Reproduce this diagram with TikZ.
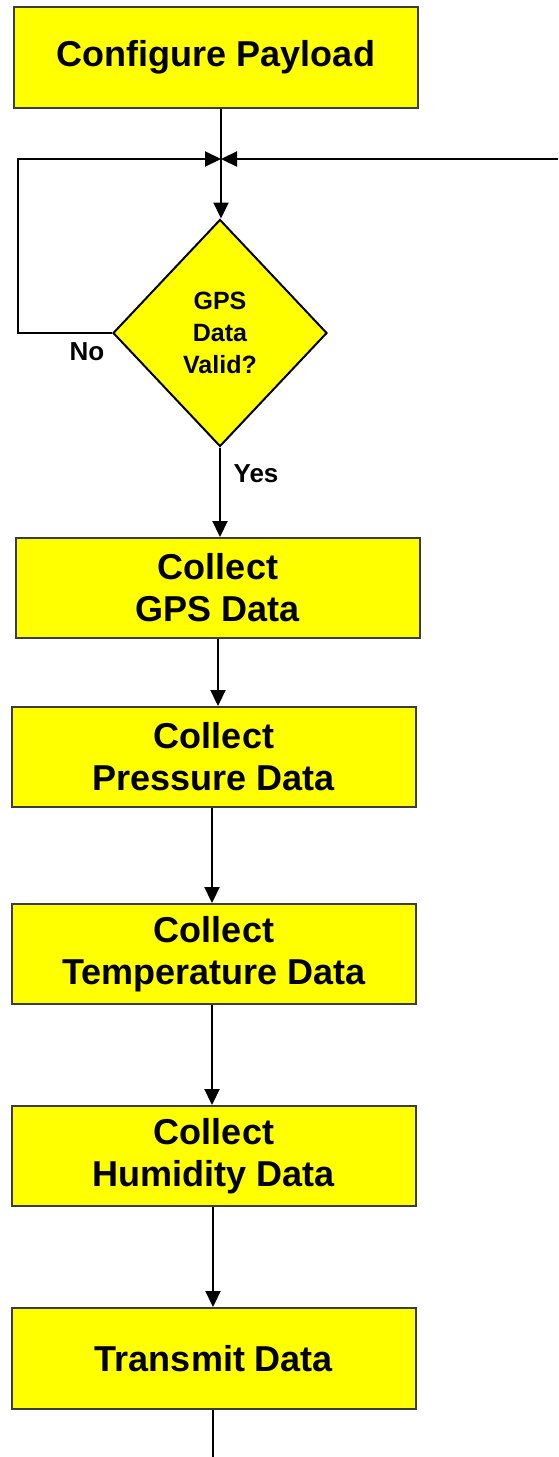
\documentclass[tikz,border=0pt]{standalone}
\usepackage{fontspec}
\setmainfont{Liberation Sans}
\usetikzlibrary{shapes.geometric,arrows.meta,calc}
\definecolor{boxyellow}{HTML}{FFFF00}
\definecolor{boxedge}{HTML}{3C3C3C}
\begin{document}
\begin{tikzpicture}[x=1pt,y=-1pt,
  stepbox/.style={draw=boxedge,line width=2pt,fill=boxyellow,minimum width=404pt,minimum height=100pt,inner sep=0pt,align=center,font=\fontsize{36}{42}\selectfont\bfseries},
  decision/.style={diamond,draw=black,line width=2pt,fill=boxyellow,minimum width=214pt,minimum height=227pt,inner sep=0pt,align=center,font=\fontsize{25}{32}\selectfont\bfseries},
  lbl/.style={font=\fontsize{26}{30}\selectfont\bfseries,inner sep=0pt},
  conn/.style={line width=2.2pt,black},
  arr/.style={conn,-{Triangle[width=15pt,length=16pt]}}]
\useasboundingbox (0,0) rectangle (558,1457);
\node[stepbox,minimum height=101pt] (cfg) at (216,57.5) {Configure Payload};
\node[decision] (dia) at (220,333) {GPS\\Data\\Valid?};
\node[stepbox] (gps) at (218,588) {Collect\\GPS Data};
\node[stepbox] (pres) at (214,757) {Collect\\Pressure Data};
\node[stepbox] (temp) at (214,954) {Collect\\Temperature Data};
\node[stepbox] (hum) at (214,1156) {Collect\\Humidity Data};
\node[stepbox,minimum height=101pt] (tx) at (214,1358.5) {Transmit Data};
\node[lbl] (no) at (87,352) {No};
\node[lbl] (yes) at (256,474) {Yes};
\coordinate (J) at (221,159);
\coordinate (L) at (18,159);
\coordinate (R) at (558,159);
\coordinate (E) at (213,1457);
\draw[conn] (J |- cfg.south) -- (J);
\draw[arr] (dia.west) -| (L) -- (J);
\draw[arr] (R) -- (J);
\draw[arr] (J) -- (J |- dia.north);
\draw[arr] (dia.south) -- (dia.south |- gps.north);
\draw[arr] (gps.south) -- (gps.south |- pres.north);
\draw[arr] ($(pres.south)+(-2,0)$) -- ($(temp.north)+(-2,0)$);
\draw[arr] ($(temp.south)+(-2,0)$) -- ($(hum.north)+(-2,0)$);
\draw[arr] ($(hum.south)+(-1,0)$) -- ($(tx.north)+(-1,0)$);
\draw[conn] ($(tx.south)+(-1,0)$) -- (E);
\end{tikzpicture}
\end{document}
